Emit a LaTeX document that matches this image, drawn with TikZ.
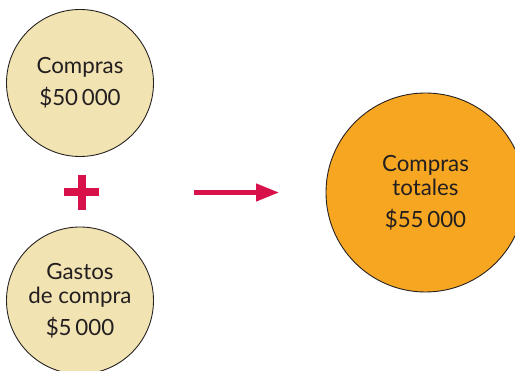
\documentclass[tikz,border=0pt]{standalone}
\usepackage{fontspec}
\setmainfont{Lato}
\usepackage{tikz}
\usetikzlibrary{arrows.meta, positioning, calc}
\usepackage{xcolor}
\definecolor{sand}{HTML}{F2E3B2}
\definecolor{amber}{HTML}{F6A620}
\definecolor{crimson}{HTML}{D8114B}
\definecolor{ink}{HTML}{231F20}

\begin{document}
\begin{tikzpicture}[
  amount/.style={circle, draw=ink, line width=0.5pt, inner sep=0pt,
    text=ink, align=center, font=\fontsize{12.7}{13.7}\selectfont},
  small/.style={amount, fill=sand, minimum size=2.94cm},
  big/.style={amount, fill=amber, minimum size=3.98cm},
  arr/.style={-{Triangle[length=0.46cm, width=0.34cm]}, line width=2.5pt,
    draw=crimson}
]
  \useasboundingbox (0,0) rectangle (10.3,7.42);
  \clip (0,0) rectangle (10.3,7.42);

  \node[small] (compras) at (1.6, 5.76) {Compras\\[4.5pt]\$50\,000};
  \node[small] (gastos)  at (1.6, 1.41) {Gastos\\de compra\\[4.5pt]\$5\,000};
  \node[big]   (total)   at (8.51, 3.57) {Compras\\totales\\[4.5pt]\$55\,000};

  % plus sign
  \coordinate (plus) at (1.63, 3.57);
  \fill[crimson] ($(plus)+(-0.35,-0.08)$) rectangle ($(plus)+(0.35,0.08)$);
  \fill[crimson] ($(plus)+(-0.08,-0.35)$) rectangle ($(plus)+(0.08,0.35)$);

  \coordinate (from) at (3.88, 3.57);
  \coordinate (to)   at (5.58, 3.57);
  \draw[arr] (from) -- (to);
\end{tikzpicture}
\end{document}
